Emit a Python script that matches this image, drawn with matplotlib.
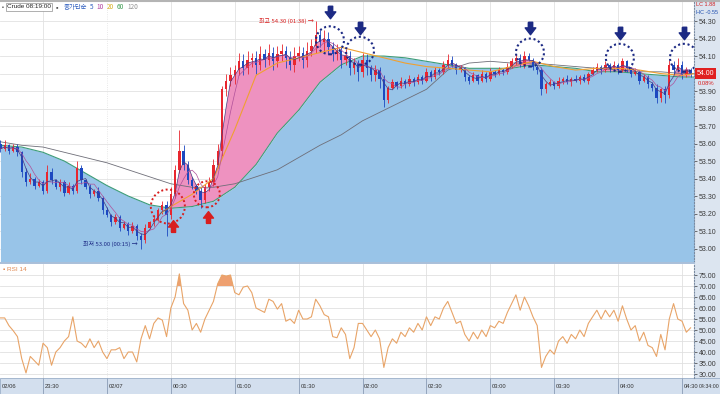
import numpy as np
import pandas as pd
import matplotlib
matplotlib.use("Agg")
import matplotlib.pyplot as plt
from matplotlib.patches import Ellipse, Rectangle
from matplotlib.lines import Line2D
from matplotlib.ticker import FuncFormatter

plt.rcParams['font.family'] = ['Liberation Sans', 'DejaVu Sans']
KR = ['Noto Sans CJK KR', 'DejaVu Sans']

# minutes from 02/07 00:00, one candle every 2 minutes
bar_t = np.arange(-50, 275, 2)
first_open = 53.60
close = [53.57, 53.59, 53.56, 53.58, 53.55, 53.44, 53.38, 53.40, 53.36, 53.38,
         53.33, 53.44, 53.39, 53.35, 53.38, 53.32, 53.36, 53.33, 53.46, 53.39,
         53.35, 53.31, 53.33, 53.29, 53.22, 53.19, 53.15, 53.18, 53.12, 53.14,
         53.10, 53.13, 53.07, 53.05, 53.12, 53.15, 53.17, 53.22, 53.25, 53.19,
         53.31, 53.45, 53.56, 53.48, 53.39, 53.36, 53.33, 53.28, 53.35, 53.38,
         53.48, 53.56, 53.91, 53.96, 53.99, 54.02, 54.07, 54.03, 54.08, 54.09,
         54.05, 54.11, 54.08, 54.12, 54.07, 54.11, 54.13, 54.09, 54.05, 54.10,
         54.12, 54.08, 54.13, 54.16, 54.22, 54.18, 54.20, 54.15, 54.11, 54.13,
         54.08, 54.10, 54.03, 54.06, 54.01, 54.08, 54.03, 53.99, 54.02, 53.97,
         53.85, 53.92, 53.95, 53.93, 53.96, 53.94, 53.97, 53.95, 53.98, 53.96,
         54.01, 53.98, 54.02, 54.01, 54.05, 54.08, 54.05, 54.02, 54.03, 53.98,
         53.96, 53.99, 53.96, 54.00, 53.97, 54.01, 54.00, 54.02, 54.01, 54.04,
         54.07, 54.09, 54.05, 54.10, 54.08, 54.04, 54.02, 53.91, 53.94, 53.95,
         53.93, 53.96, 53.97, 53.95, 53.97, 53.96, 53.98, 53.96, 54.00, 54.02,
         54.04, 54.02, 54.05, 54.03, 54.05, 54.02, 54.07, 54.03, 54.00, 54.01,
         53.96, 53.98, 53.94, 53.92, 53.86, 53.91, 53.88, 54.05, 54.02, 54.05,
         53.99, 54.02, 54.00]
# wick length above / below the body, in cents
wick_up = [2, 3, 1, 2, 2, 1, 2, 3, 1, 2, 1, 4, 2, 1, 2, 1, 2, 1, 4, 2,
           1, 2, 1, 2, 1, 2, 1, 2, 1, 2, 1, 2, 1, 2, 2, 1, 2, 1, 2, 2,
           4, 3, 12, 3, 2, 2, 1, 2, 2, 3, 3, 4, 2, 4, 5, 3, 5, 4, 5, 3,
           4, 5, 3, 5, 3, 5, 4, 3, 4, 5, 4, 3, 5, 4, 8, 3, 5, 4, 3, 4,
           3, 4, 3, 3, 2, 4, 3, 2, 3, 2, 2, 1, 2, 1, 2, 1, 2, 1, 2, 1,
           2, 1, 2, 1, 2, 3, 2, 1, 2, 1, 1, 2, 1, 2, 1, 2, 1, 2, 1, 2,
           2, 2, 2, 3, 2, 1, 1, 2, 1, 2, 1, 2, 1, 2, 1, 2, 1, 2, 1, 2,
           2, 1, 2, 1, 2, 1, 2, 1, 1, 2, 1, 2, 1, 1, 2, 1, 2, 3, 2, 4,
           2, 2, 1]
wick_dn = [2, 1, 2, 1, 2, 3, 2, 1, 2, 1, 2, 1, 2, 1, 2, 2, 1, 2, 1, 2,
           1, 2, 1, 2, 2, 1, 2, 1, 2, 1, 2, 1, 2, 5, 2, 1, 2, 1, 2, 12,
           2, 2, 2, 3, 2, 2, 2, 5, 2, 2, 2, 2, 3, 4, 3, 5, 3, 4, 3, 4,
           5, 3, 4, 3, 5, 3, 4, 6, 3, 4, 3, 5, 4, 3, 4, 3, 5, 4, 4, 3,
           5, 3, 4, 3, 5, 3, 4, 3, 3, 5, 4, 2, 1, 2, 1, 2, 1, 2, 1, 2,
           1, 2, 1, 2, 1, 2, 1, 2, 1, 2, 2, 1, 2, 1, 2, 1, 2, 1, 2, 1,
           1, 2, 1, 2, 1, 2, 2, 3, 2, 1, 2, 1, 2, 1, 2, 1, 2, 1, 2, 1,
           1, 2, 1, 2, 1, 2, 1, 2, 2, 1, 2, 1, 2, 2, 3, 2, 5, 2, 2, 1,
           2, 1, 2]
rsi = [55.5, 55.5, 52, 49.7, 47, 37, 30.5, 38, 36, 34,
       44, 42, 34, 40, 42, 45, 47, 56, 45, 44,
       42, 46, 42, 45, 40, 37, 41, 41, 42, 37,
       40, 40, 35.5, 46, 52, 46, 53, 55.5, 54.5, 47,
       60, 65, 75.5, 62, 59, 50, 53, 49, 55, 59,
       63, 71, 75, 74.5, 75, 67, 66, 69.5, 70, 67,
       60, 59, 58, 64, 63, 59.5, 62, 54, 55, 53,
       59, 55, 55, 56, 64, 61, 57, 56, 47, 46.5,
       51, 48, 37, 42, 53, 53, 50, 47, 50, 46,
       33, 42, 46, 44, 49, 47, 51, 49, 53, 50,
       56, 52, 56, 55, 60, 63, 58, 53, 54, 48,
       45, 49, 46, 50, 47, 52, 51, 54, 53, 58,
       62, 66, 59, 65, 61, 56, 52, 33, 38, 41,
       39, 45, 47, 44, 48, 46, 50, 47, 53, 56,
       59, 55, 59, 56, 59, 54, 61, 55, 50, 52,
       45, 49, 43, 42, 38, 48, 41, 55, 62, 55,
       54, 49, 51]

# moving averages every 10 minutes
ma_t = [-50, -40, -30, -20, -10, 0, 10, 20, 30, 40, 50, 60, 70, 80, 90, 100, 110,
        120, 130, 140, 150, 160, 170, 180, 190, 200, 210, 220, 230, 240, 250, 260, 270, 276]
ma60 = [53.59, 53.58, 53.55, 53.50, 53.43, 53.36, 53.30, 53.25, 53.23, 53.24, 53.27,
        53.35, 53.48, 53.66, 53.79, 53.95, 54.05, 54.10, 54.10, 54.09, 54.07, 54.05,
        54.03, 54.03, 54.03, 54.05, 54.04, 54.03, 54.01, 54.01, 54.00, 53.99, 53.98, 53.98]
ma120 = [53.61, 53.59, 53.58, 53.55, 53.52, 53.49, 53.45, 53.41, 53.37, 53.35, 53.35,
         53.37, 53.41, 53.45, 53.52, 53.59, 53.65, 53.73, 53.79, 53.85, 53.91, 54.02,
         54.06, 54.07, 54.06, 54.06, 54.05, 54.04, 54.03, 54.02, 54.01, 54.01, 54.00, 54.00]
# the 20 line only shows from about 00:25 on
ma20_t = [25, 30, 40, 50, 60, 70, 80, 90, 100, 110, 120, 130, 140, 150, 160, 170, 180,
          190, 200, 210, 220, 230, 240, 250, 260, 270, 276]
ma20 = [53.20, 53.24, 53.31, 53.40, 53.68, 53.99, 54.06, 54.09, 54.12, 54.15, 54.12,
        54.09, 54.06, 54.04, 54.03, 54.02, 54.01, 54.04, 54.07, 54.04, 54.02, 54.03,
        54.03, 54.02, 54.00, 53.99, 54.00]

x_ticks = [-30, 0, 30, 60, 90, 120, 150, 180, 210, 240, 270]
x_labels = ['23:30', '02/07', '00:30', '01:00', '01:30', '02:00', '02:30',
            '03:00', '03:30', '04:00', '04:30']
price_ticks = [53.0, 53.1, 53.2, 53.3, 53.4, 53.5, 53.6, 53.7, 53.8, 53.9,
               54.0, 54.1, 54.2, 54.3]
rsi_ticks = [30, 35, 40, 45, 50, 55, 60, 65, 70, 75]

low_pt = (15, 53.00)
high_pt = (98, 54.30)
last_price = 54.00
sell_t = [104.7, 118.8, 198.6, 240.8, 270.9]
sell_p = [54.19, 54.13, 54.12, 54.09, 54.09]
sell_arrow_p = [54.35, 54.26, 54.26, 54.23, 54.23]
buy_t = [28.6, 46.9]
buy_p = [53.24, 53.31]
buy_arrow_t = [31, 47.4]
buy_arrow_p = [53.13, 53.18]

T0, T1 = -50.2, 275.6
P0, P1 = 52.923, 54.409
NAVY = '#1c2a84'
RED = '#d81e1e'
FS = 4.6


def px(x, y):
    return x / 720, 1 - y / 394


close = np.array(close)
opn = np.r_[first_open, close[:-1]]
top = np.maximum(opn, close)
bot = np.minimum(opn, close)
high = top + np.array(wick_up) / 100
low = bot - np.array(wick_dn) / 100
col = np.where(close >= opn, '#e8262e', '#1c48c0')

ma5 = pd.Series(close).rolling(3, min_periods=1).mean().values
ma10 = pd.Series(close).rolling(5, min_periods=1).mean().values
ma60_b = np.interp(bar_t, ma_t, ma60)

fig = plt.figure(figsize=(7.2, 3.94), dpi=100)
fig.patch.set_facecolor('white')
ax = fig.add_axes([0, 132 / 394, 694 / 720, 260 / 394])
ax2 = fig.add_axes([0, 16 / 394, 694 / 720, 114 / 394])

fig.patches.append(Rectangle((694 / 720, 0), 26 / 720, 1, transform=fig.transFigure,
                             facecolor='#dce5f0', edgecolor='none', zorder=-10))
fig.patches.append(Rectangle((0, 0), 1, 16 / 394, transform=fig.transFigure,
                             facecolor='#d3dfee', edgecolor='#9aaec8', lw=0.6, zorder=-10))
fig.add_artist(Line2D([0, 1], [1 - 1 / 394] * 2, color='#b4b4b4', lw=1.5))
fig.add_artist(Line2D([0, 694 / 720], [1 - 263 / 394] * 2, color='#a9bfd9', lw=1.4))


def fmt_price(v, pos):
    return '' if abs(v - last_price) < 1e-6 else '%.2f' % v


# ---- price panel
ax.set_xlim(T0, T1)
ax.set_ylim(P0, P1)
ax.fill_between(ma_t, ma60, P0, color='#98c4e8', lw=0, zorder=1)
ax.fill_between(bar_t, ma5, ma60_b, where=ma5 > ma60_b, interpolate=True,
                color='#ee92c0', lw=0, zorder=1.5)
ax.plot(ma_t, ma60, color='#3c9c78', lw=0.8, zorder=2)
ax.plot(ma_t, ma120, color='#6e6e78', lw=0.6, zorder=2)
ax.vlines(bar_t, low, high, colors=col, lw=0.6, zorder=3)
ax.bar(bar_t, np.maximum(top - bot, 0.004), bottom=bot, width=1.1, color=col, lw=0, zorder=3)
ax.plot(ma20_t, ma20, color='#f0a030', lw=0.8, zorder=4)
ax.plot(bar_t, ma10, color='#b0509a', lw=0.5, zorder=4)
ax.plot(bar_t, ma5, color='#4a3a80', lw=0.5, zorder=4)

ax.set_xticks(x_ticks)
ax.set_yticks(price_ticks)
ax.grid(True, color='#e2e2e2', lw=0.6)
ax.set_axisbelow(True)
ax.get_xgridlines()[1].set_linestyle(':')
ax.yaxis.tick_right()
ax.yaxis.set_major_formatter(FuncFormatter(fmt_price))
ax.tick_params(axis='y', labelsize=5, length=2, pad=1.2, colors='#3a3a3a', width=0.5)
ax.tick_params(axis='x', length=0, labelbottom=False)
for s in ax.spines.values():
    s.set_visible(False)
ax.spines['right'].set_visible(True)
ax.spines['right'].set_linestyle(':')
ax.spines['right'].set_color('#7a8aa0')

# signals
down_arrow = [(-0.35, 1), (0.35, 1), (0.35, 0.1), (0.85, 0.1), (0, -1), (-0.85, 0.1), (-0.35, 0.1), (-0.35, 1)]
up_arrow = [(x, -y) for x, y in down_arrow]
for t, p in zip(sell_t, sell_p):
    ax.add_patch(Ellipse((t, p), 28 / 2.13, 28 * 0.005714, fill=False, ec=NAVY,
                         lw=1.5, ls=(0, (1, 1.3)), zorder=6))
ax.plot(sell_t, sell_arrow_p, ls='none', marker=down_arrow, ms=9, color=NAVY, zorder=6)
for t, p, r in zip(buy_t, buy_p, [17, 13]):
    ax.add_patch(Ellipse((t, p), 2 * r / 2.13, 2 * r * 0.005714, fill=False, ec=RED,
                         lw=1.4, ls=(0, (1, 1.3)), zorder=6))
ax.plot(buy_arrow_t, buy_arrow_p, ls='none', marker=up_arrow, ms=8.5, color=RED, zorder=6)

ax.annotate('최저 53.00 (00:15) →', xy=low_pt, xytext=(-1, 3), textcoords='offset points',
            ha='right', va='center', fontsize=4.3, color=NAVY, family=KR, zorder=7)
ax.annotate('최고 54.30 (01:38) →', xy=high_pt, xytext=(-1, 0), textcoords='offset points',
            ha='right', va='center', fontsize=4.3, color=RED, family=KR, zorder=7)

ax.text(1.004, last_price, '54.00', transform=ax.get_yaxis_transform(), fontsize=5,
        color='white', ha='left', va='center', zorder=8,
        bbox=dict(boxstyle='square,pad=0.25', fc='#e02020', ec='none'))
ax.annotate('0.08%', xy=(1.004, last_price), xycoords=ax.get_yaxis_transform(),
            xytext=(0.5, -7), textcoords='offset points', fontsize=4.2, color=RED,
            ha='left', va='center', annotation_clip=False)

fig.text(*px(696, 5), 'LC 1.88', fontsize=4.0, color='#d02020', va='center')
fig.text(*px(696, 12), 'HC -0.55', fontsize=4.0, color='#2050b0', va='center')

# legend line, each item placed right after the previous one
prev = fig.text(*px(2, 7), '▪', fontsize=4, color='#555555', va='center')
prev = ax.annotate('Crude 08:19:00', xy=(1, 0.5), xycoords=prev, xytext=(2, 0),
                   textcoords='offset points', fontsize=FS, color='#222222', va='center',
                   bbox=dict(boxstyle='square,pad=0.2', fc='white', ec='#909090', lw=0.5))
legend_items = [('▪', '#555555'), ('종가단순', '#2f5fc0'), ('5', '#2f5fc0'), ('10', '#b040a0'),
                ('20', '#d8b020'), ('60', '#3c9c50'), ('120', '#909090')]
for txt, c in legend_items:
    prev = ax.annotate(txt, xy=(1, 0.5), xycoords=prev, xytext=(2.2, 0),
                       textcoords='offset points', fontsize=FS, color=c, va='center',
                       family=KR, annotation_clip=False)

# ---- RSI panel
rsi_a = np.array(rsi)
ax2.set_xlim(T0, T1)
ax2.set_ylim(28.2, 80)
ax2.fill_between(bar_t, rsi_a, 70, where=rsi_a > 70, interpolate=True,
                 color='#eea070', lw=0, zorder=2)
ax2.fill_between(bar_t, rsi_a, 30, where=rsi_a < 30, interpolate=True,
                 color='#80c0e6', lw=0, zorder=2)
ax2.plot(bar_t, rsi_a, color='#e8a468', lw=0.8, zorder=3)
ax2.set_yticks(rsi_ticks)
ax2.set_xticks(x_ticks)
ax2.grid(True, color='#e0e0e0', lw=0.6)
ax2.set_axisbelow(True)
ax2.get_xgridlines()[1].set_linestyle(':')
ax2.yaxis.tick_right()
ax2.yaxis.set_major_formatter(FuncFormatter(lambda v, pos: '%.2f' % v))
ax2.tick_params(axis='y', labelsize=5, length=2, pad=1.2, colors='#3a3a3a', width=0.5)
ax2.tick_params(axis='x', direction='out', length=11.5, width=0.6, color='#8a9bb5',
                labelbottom=False)
for s in ax2.spines.values():
    s.set_visible(False)
ax2.spines['right'].set_visible(True)
ax2.spines['right'].set_linestyle(':')
ax2.spines['right'].set_color('#7a8aa0')
ax2.text(0.004, 0.955, '▪ RSI 14', transform=ax2.transAxes, fontsize=FS,
         color='#e08850', va='center')

xform = ax2.get_xaxis_transform()
for t, lab in zip(x_ticks, x_labels):
    ax2.annotate(lab, xy=(t, 0), xycoords=xform, xytext=(1.2, -5.8), textcoords='offset points',
                 fontsize=4.2, color='#333333', ha='left', va='center', annotation_clip=False)
ax2.annotate('02/06', xy=(0, 0), xycoords='axes fraction', xytext=(1.2, -5.8),
             textcoords='offset points', fontsize=4.2, color='#333333', ha='left', va='center')
fig.text(*px(719.5, 386), '04:34:00', fontsize=3.8, color='#333333', ha='right', va='center')

fig.savefig('out.png', dpi=100)
